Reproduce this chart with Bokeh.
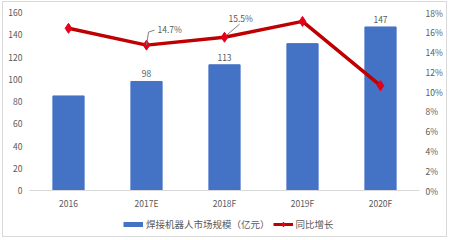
from bokeh.plotting import figure
from bokeh.layouts import column
from bokeh.models import (Range1d, LinearAxis, FixedTicker, Legend, LegendItem, ColumnDataSource)
from bokeh.core.properties import value
from bokeh.embed import file_html
from bokeh.resources import INLINE

years = ["2016", "2017E", "2018F", "2019F", "2020F"]
market = [85, 98, 113, 132, 147]          # 亿元
growth = [16.4, 14.7, 15.5, 17.1, 10.6]   # %
bar_labels = ["", "98", "113", "", "147"]
pct_labels = ["", "14.7%", "15.5%", "", ""]
left_ticks = [0, 20, 40, 60, 80, 100, 120, 140, 160]
right_ticks = [0, 2, 4, 6, 8, 10, 12, 14, 16, 18]
series_names = ["焊接机器人市场规模（亿元）", "同比增长"]

FONT = "Noto Sans CJK SC"
TXT = "#595959"
BAR = "#4472C4"
LINE = "#C00000"
MARK = "#E3001B"
NUM_FS = "8.5px"

W = 443
H = 213
LH = 234 - H
ML, MR, MT = 26, 27, 10
fh = 178
MB = H - MT - fh
fw = W - ML - MR

p = figure(width=W, height=H, output_backend="svg", toolbar_location=None,
           x_range=Range1d(-0.5, len(years) - 0.5), y_range=Range1d(0, 160),
           min_border_left=ML, min_border_right=MR, min_border_top=MT, min_border_bottom=MB)
p.extra_y_ranges = {"pct": Range1d(0, 18)}
p.outline_line_color = None
p.grid.visible = False
p.background_fill_color = "white"
p.border_fill_color = "white"

xs = list(range(len(years)))
src = ColumnDataSource(dict(x=xs, m=market, g=growth, bl=bar_labels))

p.vbar(x="x", top="m", width=0.4, source=src, color=BAR)
p.line(x="x", y="g", source=src, y_range_name="pct", line_color=LINE, line_width=3.5)
p.scatter(x="x", y="g", source=src, y_range_name="pct", marker="diamond",
          size=10, fill_color=MARK, line_color=MARK)

# value labels above bars
p.text(x="x", y="m", text="bl", source=src, text_align="center", text_baseline="bottom",
       y_offset=-4, text_font=value(FONT), text_font_size=NUM_FS, text_color=TXT)

# percentage labels with leader lines
dx = len(years) / fw       # data units per px (x)
dy = 18 / fh               # data units per px (pct axis)
i1, i2 = 1, 2
p.line(x=[i1, i1 + 2 * dx, i1 + 8 * dx],
       y=[growth[i1], growth[i1] + 13 * dy, growth[i1] + 15 * dy],
       y_range_name="pct", line_color="#7f7f7f", line_width=1)
p.text(x=[i1], y=[growth[i1]], text=[pct_labels[i1]], x_offset=11, y_offset=-16,
       text_baseline="middle", text_align="left", y_range_name="pct",
       text_font=value(FONT), text_font_size=NUM_FS, text_color=TXT)
p.line(x=[i2 + 2 * dx, i2 + 15 * dx],
       y=[growth[i2] + 2 * dy, growth[i2] + 13 * dy],
       y_range_name="pct", line_color="#7f7f7f", line_width=1)
p.text(x=[i2], y=[growth[i2]], text=[pct_labels[i2]], x_offset=4, y_offset=-19,
       text_baseline="middle", text_align="left", y_range_name="pct",
       text_font=value(FONT), text_font_size=NUM_FS, text_color=TXT)

# axes
def style_axis(ax):
    ax.major_label_text_font = FONT
    ax.major_label_text_font_size = NUM_FS
    ax.major_label_text_color = TXT
    ax.major_tick_line_color = None
    ax.minor_tick_line_color = None
    ax.major_tick_out = 0
    ax.major_tick_in = 0
    ax.minor_tick_out = 0
    ax.minor_tick_in = 0

xa = p.xaxis[0]
xa.ticker = FixedTicker(ticks=xs)
xa.major_label_overrides = {i: y for i, y in enumerate(years)}
style_axis(xa)
xa.axis_line_color = "#D9D9D9"
xa.major_label_standoff = 6

ya = p.yaxis[0]
ya.ticker = FixedTicker(ticks=left_ticks)
style_axis(ya)
ya.axis_line_color = None
ya.major_label_standoff = 7

ra = LinearAxis(y_range_name="pct", ticker=FixedTicker(ticks=right_ticks),
                major_label_overrides={t: f"{t}%" for t in right_ticks})
style_axis(ra)
ra.axis_line_color = None
ra.major_label_standoff = 6
p.add_layout(ra, "right")

# legend strip
lg = figure(width=W, height=LH, output_backend="svg", toolbar_location=None,
            x_range=Range1d(0, 1), y_range=Range1d(0, 1),
            min_border=0, min_border_left=0, min_border_right=0,
            min_border_top=0, min_border_bottom=0)
lg.axis.visible = False
lg.grid.visible = False
lg.outline_line_color = None
lg.border_fill_color = "white"
r_bar = lg.line(x=[-10, -9], y=[-10, -9], line_color=BAR, line_width=5, line_cap="butt")
r_ln = lg.line(x=[-10, -9], y=[-10, -9], line_color=LINE, line_width=3)
r_mk = lg.scatter(x=[-10], y=[-10], marker="diamond", size=9, fill_color=MARK, line_color=MARK)
legend = Legend(items=[LegendItem(label=series_names[0], renderers=[r_bar]),
                       LegendItem(label=series_names[1], renderers=[r_ln, r_mk])],
                orientation="horizontal", location=(94, 5),
                label_text_font=FONT, label_text_font_size="9.5px", label_text_color=TXT,
                glyph_width=20, glyph_height=12, label_height=12, label_standoff=3, spacing=3,
                padding=2, margin=0, border_line_color=None, background_fill_alpha=0)
lg.add_layout(legend, "center")

layout = column(p, lg, spacing=0,
                styles={"border": "1px solid #d9d9d9", "margin-left": "2px", "margin-top": "1px"})

open("out.html", "w").write(file_html(layout, INLINE))
